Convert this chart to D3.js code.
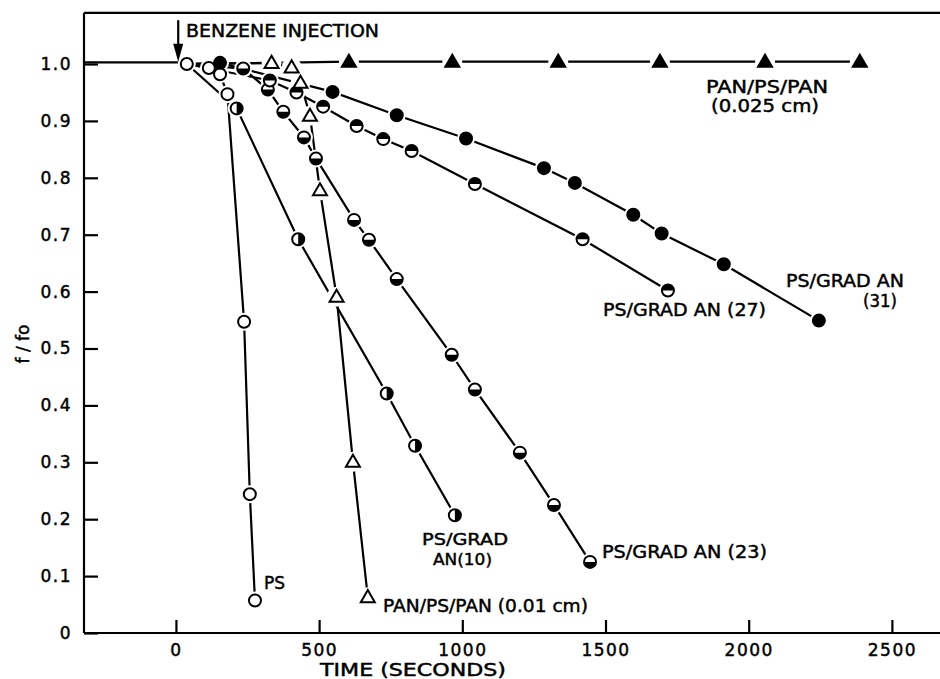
<!DOCTYPE html>
<html><head><meta charset="utf-8">
<script src="https://cdn.jsdelivr.net/npm/d3@7"></script>
<style>
body{margin:0;background:#fff}
svg{display:block}
text{font-family:"DejaVu Sans","Liberation Sans",sans-serif;fill:#000;stroke:#000;stroke-width:0.45px}
</style>
</head><body>
<svg id="chart" width="940" height="679"></svg>
<script>
// ---------- data ----------
const xTicks = [0, 500, 1000, 1500, 2000, 2500];
const yTicks = [0, 0.1, 0.2, 0.3, 0.4, 0.5, 0.6, 0.7, 0.8, 0.9, 1.0];
const injectionTime = 38, injectionF = 1.0;
const baselineTime = [-321, 38];
const baselineF = [1.003, 1.003];

const psTime = [38, 115, 154, 180, 238, 258, 276];
const psF    = [1.0, 0.993, 0.982, 0.947, 0.547, 0.244, 0.057];

const an10Time = [212, 427, 736, 835, 974];
const an10F    = [0.922, 0.692, 0.421, 0.329, 0.207];

const an23Time = [235, 321, 375, 447, 489, 622, 674, 771, 963, 1044, 1201, 1320, 1446];
const an23F    = [0.992, 0.955, 0.916, 0.871, 0.834, 0.726, 0.691, 0.622, 0.489, 0.428, 0.317, 0.225, 0.125];

const an27Time = [328, 421, 514, 631, 724, 823, 1044, 1420, 1718];
const an27F    = [0.971, 0.95, 0.925, 0.891, 0.868, 0.847, 0.789, 0.692, 0.602];

const an31Time = [154, 547, 771, 1013, 1285, 1393, 1597, 1696, 1913, 2245];
const an31F    = [1.002, 0.951, 0.91, 0.869, 0.817, 0.791, 0.735, 0.702, 0.648, 0.549];

const pan01Time = [334, 404, 435, 468, 503, 561, 618, 670];
const pan01F    = [1.002, 0.994, 0.967, 0.909, 0.778, 0.591, 0.301, 0.063];

const pan025Time = [604, 965, 1335, 1690, 2057, 2388];
const pan025F    = [1.004, 1.004, 1.004, 1.004, 1.004, 1.004];

// ---------- chart ----------
const svg = d3.select("#chart");
const x = d3.scaleLinear().domain([-321, 2668]).range([84, 940]);
const y = d3.scaleLinear().domain([0, 1]).range([633, 64]);

const zip = (t, f) => t.map((v, i) => ({t: v, f: f[i]}));
const series = [
  {pts: zip(psTime, psF), marker: "open", origin: false},
  {pts: zip(an10Time, an10F), marker: "halfRight", origin: true},
  {pts: zip(an23Time, an23F), marker: "halfBottom", origin: true},
  {pts: zip(an27Time, an27F), marker: "halfTop", origin: true},
  {pts: zip(an31Time, an31F), marker: "filled", origin: true},
  {pts: zip(pan01Time, pan01F), marker: "triOpen", origin: true},
  {pts: zip(pan025Time, pan025F), marker: "triFilled", origin: true}
];

const SW = 2.2;
// frame
svg.append("line").attr("x1", x(-321)).attr("x2", 940).attr("y1", y(1.09)).attr("y2", y(1.09))
  .attr("stroke", "#000").attr("stroke-width", SW);
svg.append("line").attr("x1", x(-321)).attr("x2", x(-321)).attr("y1", y(1.09)).attr("y2", y(0))
  .attr("stroke", "#000").attr("stroke-width", SW);
svg.append("line").attr("x1", x(-321)).attr("x2", 940).attr("y1", y(0)).attr("y2", y(0))
  .attr("stroke", "#000").attr("stroke-width", SW);

// axes
const xAxis = svg.append("g").attr("transform", `translate(0,${y(0)})`)
  .call(d3.axisBottom(x).tickValues(xTicks).tickSize(-13).tickPadding(11).tickFormat(d3.format("d")));
const yAxis = svg.append("g").attr("transform", `translate(${x(-321)},0)`)
  .call(d3.axisLeft(y).tickValues(yTicks).tickSize(-14).tickPadding(12)
    .tickFormat(d => d === 0 ? "0" : d3.format(".1f")(d)));
[xAxis, yAxis].forEach(g => {
  g.select(".domain").remove();
  g.selectAll(".tick line").attr("stroke", "#000").attr("stroke-width", SW);
  g.selectAll(".tick text").attr("font-size", 17).attr("letter-spacing", 1.5)
    .attr("font-family", "DejaVu Sans, sans-serif").attr("fill", "#000");
});

// lines
const line = d3.line().x(d => x(d.t)).y(d => y(d.f));
svg.append("path").datum(zip(baselineTime, baselineF)).attr("d", line)
  .attr("fill", "none").attr("stroke", "#000").attr("stroke-width", SW);
series.forEach(s => {
  const pts = s.origin ? [{t: injectionTime, f: injectionF}].concat(s.pts) : s.pts;
  svg.append("path").datum(pts).attr("d", line)
    .attr("fill", "none").attr("stroke", "#000").attr("stroke-width", SW);
});

// halos (gaps around markers)
const R = 6;
series.forEach(s => {
  svg.append("g").selectAll("circle").data(s.pts).join("circle")
    .attr("cx", d => x(d.t)).attr("cy", d => y(d.f))
    .attr("r", s.marker.startsWith("tri") ? 10 : 9).attr("fill", "#fff");
});

// markers
const tri = d3.symbol().type(d3.symbolTriangle).size(85);
series.forEach(s => {
  const g = svg.append("g");
  s.pts.forEach(d => {
    const cx = x(d.t), cy = y(d.f);
    if (s.marker.startsWith("tri")) {
      g.append("path").attr("d", tri()).attr("transform", `translate(${cx},${cy + 1})`)
        .attr("fill", s.marker === "triFilled" ? "#000" : "#fff")
        .attr("stroke", "#000").attr("stroke-width", 2).attr("stroke-linejoin", "miter");
      return;
    }
    g.append("circle").attr("cx", cx).attr("cy", cy).attr("r", R)
      .attr("fill", s.marker === "filled" ? "#000" : "#fff")
      .attr("stroke", "#000").attr("stroke-width", 2);
    let p = null;
    if (s.marker === "halfRight") p = `M${cx},${cy - R}A${R},${R} 0 0 1 ${cx},${cy + R}Z`;
    if (s.marker === "halfTop") p = `M${cx - R},${cy}A${R},${R} 0 0 1 ${cx + R},${cy}Z`;
    if (s.marker === "halfBottom") p = `M${cx + R},${cy}A${R},${R} 0 0 1 ${cx - R},${cy}Z`;
    if (p) g.append("path").attr("d", p).attr("fill", "#000");
  });
});

// injection arrow
const ax = x(8);
svg.append("line").attr("x1", ax).attr("x2", ax).attr("y1", y(1.077)).attr("y2", y(1.02))
  .attr("stroke", "#000").attr("stroke-width", SW);
svg.append("path")
  .attr("d", `M${ax - 5},${y(1.004) - 18}L${ax + 5},${y(1.004) - 18}L${ax},${y(1.004)}Z`)
  .attr("fill", "#000");

// annotations
function label(txt, px, py, len, size) {
  const t = svg.append("text").attr("x", px).attr("y", py).attr("font-size", size || 17).text(txt);
  if (len) t.attr("textLength", len).attr("lengthAdjust", "spacingAndGlyphs");
  return t;
}
label("BENZENE INJECTION", 186, 37, 193);
label("PAN/PS/PAN", 706, 93, 122);
label("(0.025 cm)", 711, 112, 108);
label("PS/GRAD AN", 786, 287, 118);
label("(31)", 863, 307, 34);
label("PS/GRAD AN (27)", 603, 316, 163);
label("PS/GRAD", 422, 545, 86, 16);
label("AN(10)", 433, 565, 59, 16);
label("PS/GRAD AN (23)", 602, 558, 165);
label("PAN/PS/PAN (0.01 cm)", 383, 612, 205);
label("PS", 264, 589, 21);
label("TIME (SECONDS)", 320, 676, 186);
svg.append("text").attr("transform", "translate(29,344) rotate(-90)")
  .attr("text-anchor", "middle").attr("font-size", 17).text("f / fo");
</script>
</body></html>
